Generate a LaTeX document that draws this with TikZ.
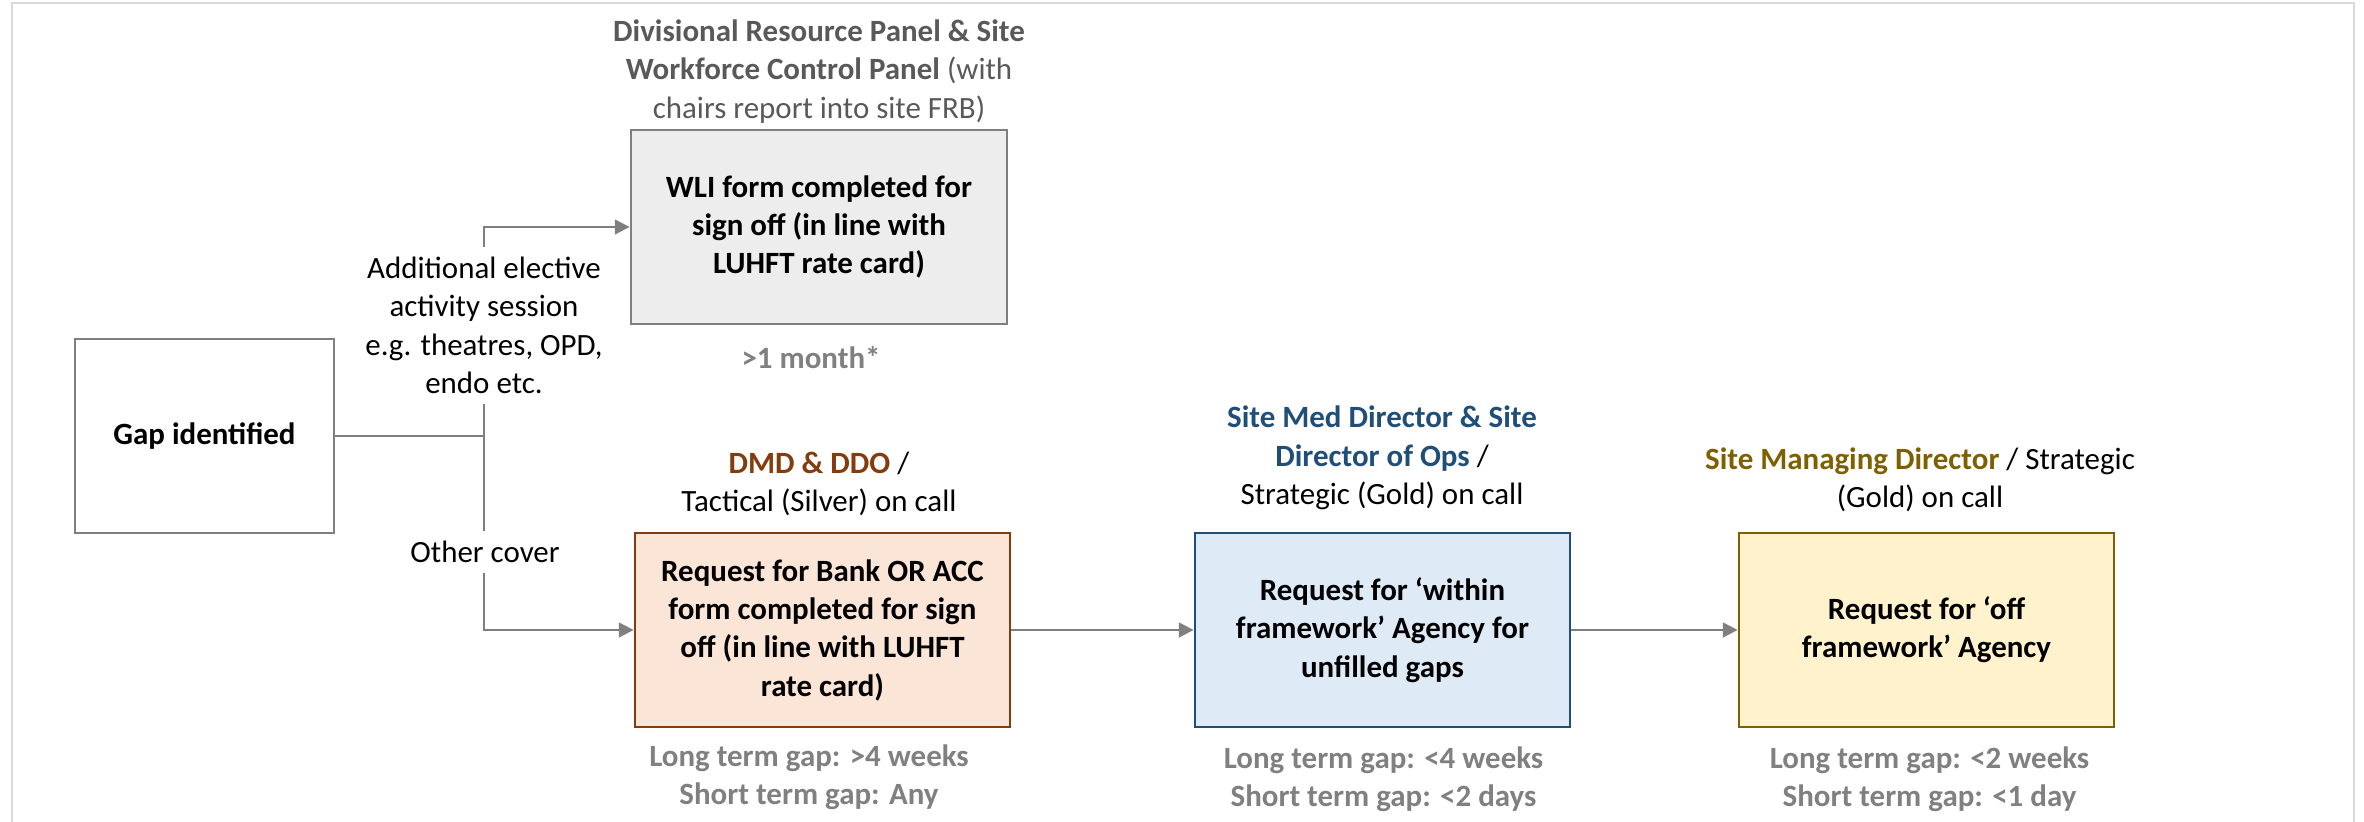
\documentclass[tikz,border=0pt]{standalone}
\usepackage{fontspec}
\setmainfont{Carlito}
\usetikzlibrary{arrows.meta}
\definecolor{connc}{HTML}{7F7F7F}
\definecolor{framec}{HTML}{D9D9D9}
\definecolor{hdrgray}{HTML}{595959}
\definecolor{notegray}{HTML}{808080}
\definecolor{wlifill}{HTML}{EDEDED}
\definecolor{wliborder}{HTML}{7F7F7F}
\definecolor{bankfill}{HTML}{FBE5D6}
\definecolor{bankborder}{HTML}{843C0C}
\definecolor{withinfill}{HTML}{DEEBF7}
\definecolor{withinborder}{HTML}{1F4E79}
\definecolor{offfill}{HTML}{FFF2CC}
\definecolor{offborder}{HTML}{7F6000}
\begin{document}
\begin{tikzpicture}[x=0.01cm,y=-0.01cm,
  every node/.style={font=\fontsize{8.8pt}{10.9pt}\selectfont, align=center, inner sep=0pt},
  box/.style={draw, line width=0.75pt, minimum height=1.94cm, minimum width=3.75cm, font=\fontsize{8.8pt}{10.9pt}\selectfont\bfseries},
  conn/.style={draw=connc, line width=0.6pt, -{Triangle[length=4.2pt,width=4.2pt]}},
  plainline/.style={draw=connc, line width=0.6pt},
  note/.style={text=notegray, font=\fontsize{8.8pt}{10.9pt}\selectfont\bfseries},
  lbl/.style={fill=white, inner xsep=4pt, inner ysep=3pt}]
\useasboundingbox (0,0) rectangle (2364,822);
% frame
\draw[framec, line width=0.8pt] (12,840) -- (12,3) -- (2354,3) -- (2354,840);

% boxes
\node[box, draw=connc, fill=white, minimum width=2.59cm] (gap) at (204.5,436) {Gap identified};
\node[box, draw=wliborder, fill=wlifill, minimum width=3.76cm] (wli) at (819,227) {WLI form completed for\\sign off (in line with\\LUHFT rate card)};
\node[box, draw=bankborder, fill=bankfill] (bank) at (822.5,630) {Request for Bank OR ACC\\form completed for sign\\off (in line with LUHFT\\rate card)};
\node[box, draw=withinborder, fill=withinfill] (within) at (1382.5,630) {Request for ‘within\\framework’ Agency for\\unfilled gaps};
\node[box, draw=offborder, fill=offfill] (off) at (1926.5,630) {Request for ‘off\\framework’ Agency};

% headers
\node[text=hdrgray] (hdrWLI) at (819,71.5) {\textbf{Divisional Resource Panel \& Site}\\\textbf{Workforce Control Panel} (with\\chairs report into site FRB)};
\node (hdrBank) at (819,484) {\textbf{\textcolor{bankborder}{DMD \& DDO}} /\\Tactical (Silver) on call};
\node (hdrWithin) at (1382,458) {\textbf{\textcolor{withinborder}{Site Med Director \& Site}}\\\textbf{\textcolor{withinborder}{Director of Ops}} /\\Strategic (Gold) on call};
\node (hdrOff) at (1920,480) {\textbf{\textcolor{offborder}{Site Managing Director}} / Strategic\\(Gold) on call};

% notes
\node[note] (noteWLI) at (811,358) {>1 month*};
\node[note] (noteBank) at (809,777) {Long term gap: >4 weeks\\Short term gap: Any};
\node[note] (noteWithin) at (1383.5,779) {Long term gap: <4 weeks\\Short term gap: <2 days};
\node[note] (noteOff) at (1929.5,779) {Long term gap: <2 weeks\\Short term gap: <1 day};

% connectors
\coordinate (j) at (484,436);
\draw[conn] (gap.east) -- (j) |- (wli.west);
\draw[conn] (j) |- (bank.west);
\draw[conn] (bank.east) -- (within.west);
\draw[conn] (within.east) -- (off.west);

% branch labels
\node[lbl] (lblElective) at (484,325.5) {Additional elective\\activity session\\e.g. theatres, OPD,\\endo etc.};
\node[lbl] (lblOther) at (485,552) {Other cover};
\end{tikzpicture}
\end{document}
